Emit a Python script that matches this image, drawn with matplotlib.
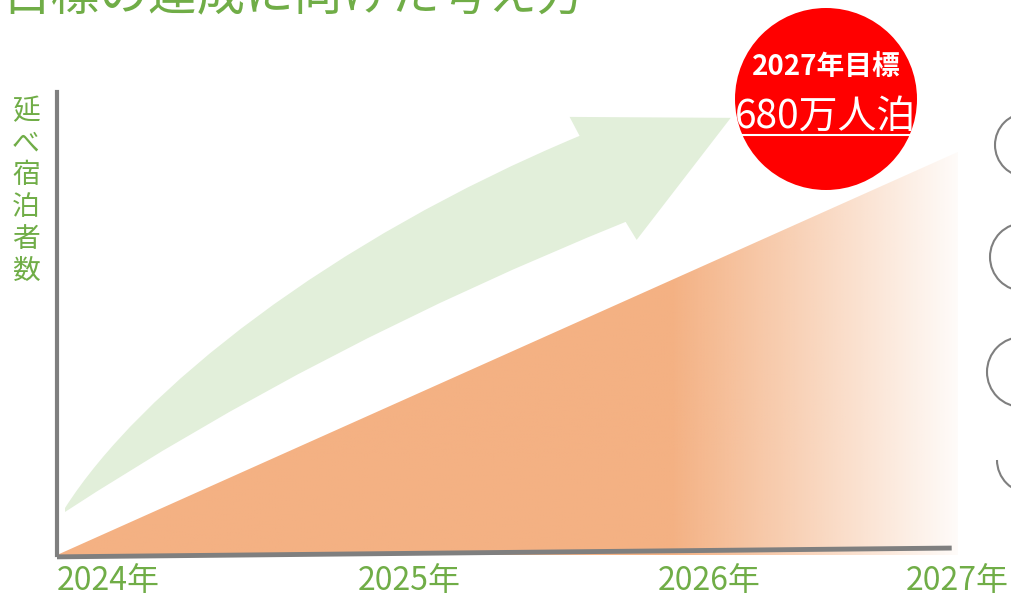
import numpy as np
import matplotlib
matplotlib.use("Agg")
import matplotlib.pyplot as plt
from matplotlib.patches import Circle, Arc, PathPatch
from matplotlib.path import Path
from matplotlib.transforms import ScaledTranslation

plt.rcParams['font.family'] = ['Noto Sans CJK JP', 'DejaVu Sans']

# ---- data ----
years = [2024, 2027]
stays = [0, 680]                # 万人泊
tick_years = [2024, 2025, 2026, 2027]
tick_labels = ["2024年", "2025年", "2026年", "2027年"]
title = "目標の達成に向けた考え方"
ylabel = "延べ宿泊者数"
goal_title = "2027年目標"
goal_value = "680万人泊"

GREEN = "#70AD47"
ORANGE = np.array([244, 177, 131]) / 255
GRAY = "#7F7F7F"

W, H = 1012, 597
fig = plt.figure(figsize=(W / 100, H / 100), dpi=100)

# data axes
ax = fig.add_axes([57 / W, (H - 555) / H, (958 - 57) / W, (555 - 92) / H])
ax.set_xlim(2024, 2027)
ax.set_ylim(0, 781)
ax.patch.set_alpha(0)
for s in ["top", "right", "bottom"]:
    ax.spines[s].set_visible(False)
ax.spines["left"].set_color(GRAY)
ax.spines["left"].set_linewidth(3)
ax.set_yticks([])
ax.set_xticks(tick_years)
ax.set_xticklabels(tick_labels, fontsize=23, color=GREEN, ha="left")
ax.tick_params(axis="x", length=0, pad=7)
lbls = ax.get_xticklabels()
lbls[-1].set_transform(lbls[-1].get_transform() + ScaledTranslation(-0.52, 0.0, fig.dpi_scale_trans))

# gradient-filled triangle (growth area)
poly = ax.fill_between(years, 0, stays, color="none", lw=0)
xs = np.linspace(years[0], years[1], 600)
alpha = np.where(xs < 2026.05, 1.0, 1.0 - (xs - 2026.05) / (2027 - 2026.05) * 0.95)
img = np.zeros((2, len(xs), 4))
img[..., :3] = ORANGE
img[..., 3] = alpha
im = ax.imshow(img, extent=[years[0], years[1], 0, stays[1]], aspect="auto",
               origin="lower", zorder=1, interpolation="bilinear")
clip = poly.get_paths()[0]
im.set_clip_path(clip, transform=ax.transData)

# slightly tilted baseline (x axis)
ax.plot([0, 0.993], [-0.004, 0.015], transform=ax.transAxes, color=GRAY, lw=3.5,
        solid_capstyle="butt", clip_on=False, zorder=3)

# curved green arrow
verts = [(2024.0267, 79.3), (2024.2767, 278.4), (2024.91, 531.5), (2025.74, 707.0),
         (2025.7067, 739.0), (2026.2433, 737.4), (2025.93, 531.5),
         (2025.8933, 561.9), (2024.8767, 354.3), (2024.0267, 72.6), (2024.0267, 79.3)]
codes = [Path.MOVETO, Path.CURVE4, Path.CURVE4, Path.CURVE4, Path.LINETO, Path.LINETO,
         Path.LINETO, Path.LINETO, Path.CURVE3, Path.CURVE3, Path.CLOSEPOLY]
ax.add_patch(PathPatch(Path(verts, codes), facecolor="#E2EFDA", edgecolor="none",
                       zorder=2, clip_on=False))

# overlay axes in pixel coords for decorations
ov = fig.add_axes([0, 0, 1, 1])
ov.set_xlim(0, W)
ov.set_ylim(H, 0)
ov.axis("off")
ov.patch.set_alpha(0)

ov.text(2, 9, title, fontsize=35, color=GREEN, va="baseline", ha="left")
ov.text(26, 191, "\n".join(ylabel), fontsize=20, color=GREEN, va="center",
        ha="center", linespacing=1.08)

ov.add_patch(Circle((826, 99), 91, facecolor="#FF0000", edgecolor="none", zorder=5))
ov.text(826, 67, goal_title, fontsize=20, color="white", ha="center", va="center",
        zorder=6, fontweight="semibold")
ov.text(826, 117, goal_value, fontsize=28, color="white", ha="center", va="center",
        zorder=6)
ov.plot([737, 913], [135, 135], color="white", lw=1.5, zorder=6)

for cx, cy, r in [(1027, 145, 32), (1024, 257, 34), (1022, 372, 35)]:
    ov.add_patch(Circle((cx, cy), r, facecolor="none", edgecolor=GRAY, lw=1.5))
ov.add_patch(Arc((1030, 460), 66, 66, theta1=90, theta2=180, edgecolor=GRAY, lw=1.5))

fig.savefig("out.png", dpi=100)
